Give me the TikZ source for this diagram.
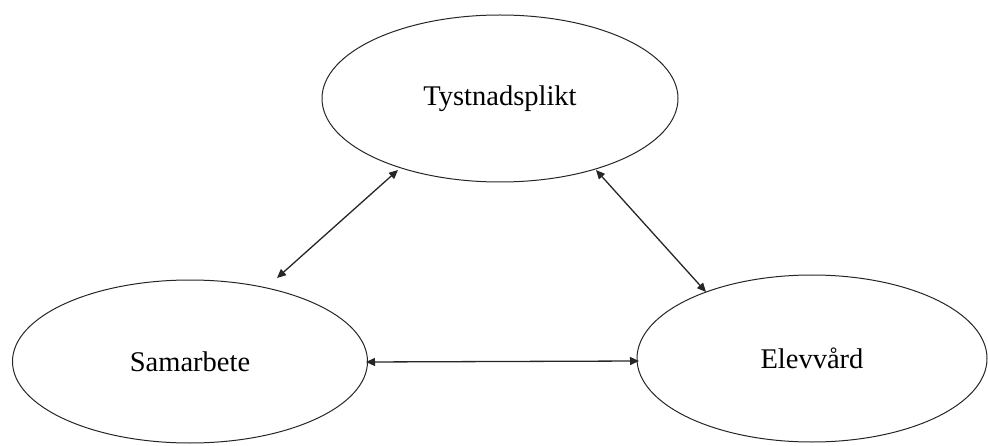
\documentclass[tikz,border=0pt]{standalone}
\usepackage{fontspec}
\setmainfont{Liberation Serif}
\usetikzlibrary{shapes.geometric,arrows.meta}
\begin{document}
\begin{tikzpicture}[x=1pt,y=1pt,
  oval/.style={draw=black!85,line width=1pt,ellipse,inner sep=0pt,
    font=\fontsize{28.5}{33}\selectfont},
  link/.style={draw=black!85,line width=1.3pt,
    {Triangle[length=9pt,width=8pt]}-{Triangle[length=9pt,width=8pt]}}]
\useasboundingbox (0,0) rectangle (988,445);
\node[oval,minimum width=356pt,minimum height=167pt] (tys) at (500,346.5) {Tystnadsplikt};
\node[oval,minimum width=355pt,minimum height=163pt] (sam) at (190,83.5) {Samarbete};
\node[oval,minimum width=350pt,minimum height=167pt] (ele) at (812,86.5) {Elevvård};
\coordinate (a1s) at (277,167);
\coordinate (a1t) at (398,275);
\coordinate (a2t) at (596,275);
\coordinate (a2e) at (706,153);
\coordinate (a3s) at (366,83);
\coordinate (a3e) at (639,84);
\draw[link] (a1s) -- (a1t);
\draw[link] (a2t) -- (a2e);
\draw[link] (a3s) -- (a3e);
\end{tikzpicture}
\end{document}
